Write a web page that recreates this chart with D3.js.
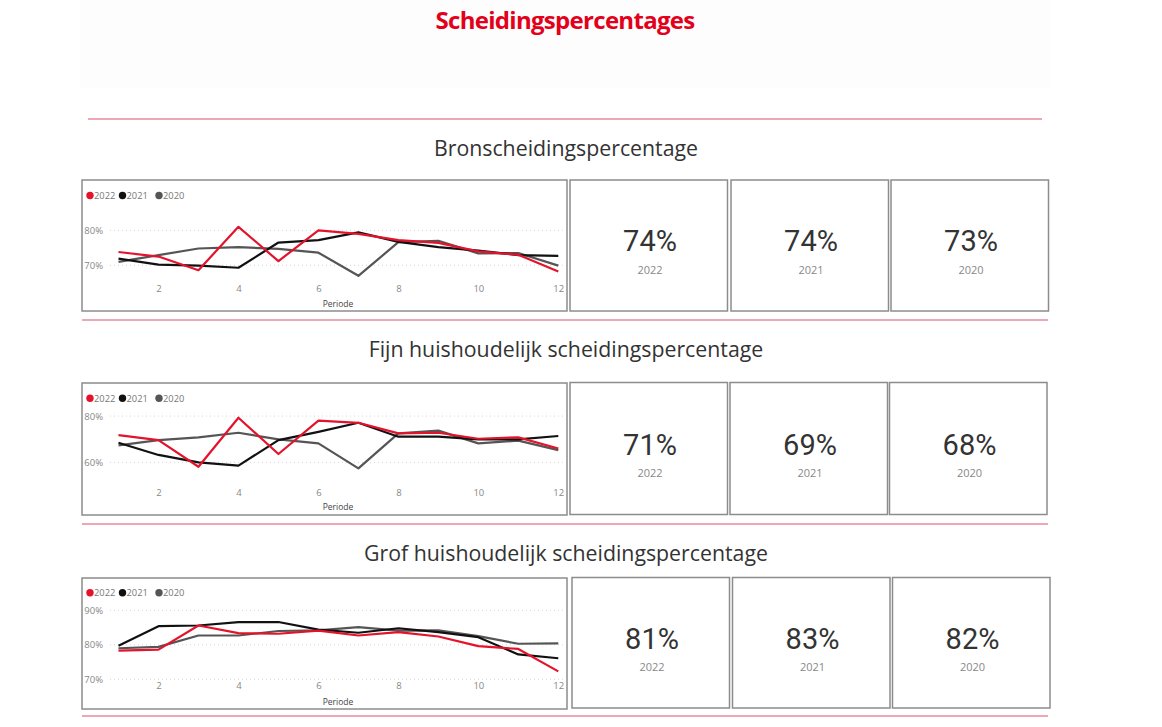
<!DOCTYPE html>
<html>
<head>
<meta charset="utf-8">
<script src="https://cdn.jsdelivr.net/npm/d3@7"></script>
<style>
  body { margin: 0; background: #fff; }
  svg { display: block; }
</style>
</head>
<body>
<div id="chart"></div>
<script>
// data
const periods = [1, 2, 3, 4, 5, 6, 7, 8, 9, 10, 11, 12];
const years = ["2022", "2021", "2020"];
const mainTitle = "Scheidingspercentages";
const sectionTitles = ["Bronscheidingspercentage", "Fijn huishoudelijk scheidingspercentage", "Grof huishoudelijk scheidingspercentage"];

const bron2022 = [73.8, 72.5, 68.6, 81.0, 71.2, 80.0, 79.0, 77.2, 76.4, 74.0, 73.0, 68.2];
const bron2021 = [71.9, 70.2, 69.9, 69.3, 76.5, 77.2, 79.4, 76.7, 75.2, 74.2, 72.9, 72.7];
const bron2020 = [71.0, 72.9, 74.8, 75.2, 74.7, 73.6, 67.0, 76.6, 77.0, 73.4, 73.5, 69.9];

const fijn2022 = [71.8, 69.6, 58.1, 79.3, 63.6, 78.0, 77.1, 72.5, 72.8, 70.2, 70.8, 66.0];
const fijn2021 = [68.5, 63.2, 60.0, 58.6, 69.6, 73.2, 77.1, 71.1, 71.1, 69.9, 69.9, 71.4];
const fijn2020 = [67.3, 69.6, 70.8, 72.8, 69.9, 68.2, 57.4, 72.5, 73.7, 68.2, 69.4, 65.3];

const grof2022 = [78.3, 78.6, 85.6, 83.4, 83.2, 84.1, 82.7, 83.7, 82.4, 79.6, 78.8, 72.3];
const grof2021 = [79.7, 85.4, 85.6, 86.6, 86.6, 84.4, 83.5, 84.8, 83.7, 82.2, 77.2, 76.1];
const grof2020 = [79.0, 79.4, 82.7, 82.7, 84.0, 84.2, 85.1, 84.1, 84.2, 82.5, 80.3, 80.4];

const bronKpi = [74, 74, 73];
const fijnKpi = [71, 69, 68];
const grofKpi = [81, 83, 82];

const bronTicks = [70, 80];
const fijnTicks = [60, 80];
const grofTicks = [70, 80, 90];
const xTicks = [2, 4, 6, 8, 10, 12];

// styles / layout
const colors = ["#e3132c", "#111111", "#555555"];
const pink = "#e88a9c";
const W = 1162, H = 727;

const sections = [
  { title: sectionTitles[0], titleY: 156, series: [bron2022, bron2021, bron2020], kpi: bronKpi, ticks: bronTicks,
    box: [82, 180, 485, 131], yDomain: [65, 85], yRange: [282.8, 212.8], xAxisY: 286, periodeY: 307,
    legendY: 195.5, cardX: [570, 731, 891], cardY: 180, cardH: 131, valueY: 251, yearY: 274, sepY: 320 },
  { title: sectionTitles[1], titleY: 357, series: [fijn2022, fijn2021, fijn2020], kpi: fijnKpi, ticks: fijnTicks,
    box: [82, 383, 485, 132], yDomain: [50, 85], yRange: [485.5, 404.5], xAxisY: 490, periodeY: 510,
    legendY: 398.3, cardX: [570, 730, 889.5], cardY: 382.5, cardH: 132, valueY: 455, yearY: 477, sepY: 524 },
  { title: sectionTitles[2], titleY: 561, series: [grof2022, grof2021, grof2020], kpi: grofKpi, ticks: grofTicks,
    box: [82, 578, 485, 131], yDomain: [68, 92], yRange: [686.2, 603.4], xAxisY: 683.5, periodeY: 704.5,
    legendY: 592.7, cardX: [572, 732.5, 892.5], cardY: 577.5, cardH: 130.5, valueY: 649, yearY: 671, sepY: 716 }
];

const svg = d3.select("#chart").append("svg")
  .attr("width", W)
  .attr("height", H);

// title band
svg.append("rect")
  .attr("x", 80).attr("y", 0).attr("width", 970).attr("height", 88)
  .attr("fill", "#fdfdfd");
svg.append("text")
  .attr("x", 565).attr("y", 29)
  .attr("text-anchor", "middle")
  .attr("font-family", "'Open Sans', sans-serif")
  .attr("font-weight", "bold")
  .attr("font-size", 24)
  .attr("letter-spacing", -0.7)
  .attr("fill", "#e3001b")
  .text(mainTitle);

svg.append("line")
  .attr("x1", 88).attr("x2", 1042).attr("y1", 119).attr("y2", 119)
  .attr("stroke", pink).attr("stroke-width", 1.5);

const x = d3.scaleLinear().domain([1, 12]).range([118.5, 558.3]);

sections.forEach(function (s) {
  // section title
  svg.append("text")
    .attr("x", 566).attr("y", s.titleY)
    .attr("text-anchor", "middle")
    .attr("font-family", "'Open Sans', sans-serif")
    .attr("font-size", 21.3)
    .attr("fill", "#333")
    .text(s.title);

  // chart box
  svg.append("rect")
    .attr("x", s.box[0]).attr("y", s.box[1])
    .attr("width", s.box[2]).attr("height", s.box[3])
    .attr("fill", "#fff")
    .attr("stroke", "#8c8c8c").attr("stroke-width", 1.5);

  const y = d3.scaleLinear().domain(s.yDomain).range(s.yRange);

  // gridlines
  svg.append("g").selectAll("line")
    .data(s.ticks)
    .enter().append("line")
    .attr("x1", 110).attr("x2", 565)
    .attr("y1", function (d) { return y(d); })
    .attr("y2", function (d) { return y(d); })
    .attr("stroke", "#d6d6d6")
    .attr("stroke-dasharray", "1,3");

  // y axis
  const ya = svg.append("g")
    .attr("transform", "translate(107,0)")
    .call(d3.axisLeft(y).tickValues(s.ticks).tickSize(0).tickPadding(4).tickFormat(function (d) { return d + "%"; }));
  ya.select(".domain").remove();
  ya.selectAll("text").attr("font-family", "'Open Sans', sans-serif").attr("font-size", 9.5).attr("fill", "#888");

  // x axis
  const xa = svg.append("g")
    .attr("transform", "translate(0," + (s.xAxisY - 1) + ")")
    .call(d3.axisBottom(x).tickValues(xTicks).tickSize(0).tickPadding(0));
  xa.select(".domain").remove();
  xa.selectAll("text").attr("font-family", "'Open Sans', sans-serif").attr("font-size", 9.5).attr("fill", "#888");

  svg.append("text")
    .attr("x", 338).attr("y", s.periodeY)
    .attr("text-anchor", "middle")
    .attr("font-family", "'Open Sans', sans-serif")
    .attr("font-size", 8.5)
    .attr("fill", "#444")
    .text("Periode");

  // lines, 2020 drawn first so 2022 is on top
  const line = d3.line()
    .x(function (d, i) { return x(periods[i]); })
    .y(function (d) { return y(d); });
  [2, 1, 0].forEach(function (k) {
    svg.append("path")
      .datum(s.series[k])
      .attr("d", line)
      .attr("fill", "none")
      .attr("stroke", colors[k])
      .attr("stroke-width", 2.2)
      .attr("stroke-linejoin", "round");
  });

  // legend
  const legendX = [90, 122.5, 159];
  years.forEach(function (yr, k) {
    svg.append("circle")
      .attr("cx", legendX[k]).attr("cy", s.legendY).attr("r", 3.7)
      .attr("fill", colors[k]);
    svg.append("text")
      .attr("x", legendX[k] + 4).attr("y", s.legendY + 3.3)
      .attr("font-family", "'Open Sans', sans-serif")
      .attr("font-size", 9.3)
      .attr("fill", "#777")
      .text(yr);
  });

  // kpi cards
  s.kpi.forEach(function (v, k) {
    const cx = s.cardX[k];
    svg.append("rect")
      .attr("x", cx).attr("y", s.cardY)
      .attr("width", 157.5).attr("height", s.cardH)
      .attr("fill", "#fff")
      .attr("stroke", "#8c8c8c").attr("stroke-width", 1.5);
    svg.append("text")
      .attr("x", cx + 80).attr("y", s.valueY)
      .attr("text-anchor", "middle")
      .attr("font-family", "Roboto, sans-serif")
      .attr("font-size", 29)
      .attr("fill", "#333")
      .text(v + "%");
    svg.append("text")
      .attr("x", cx + 80).attr("y", s.yearY)
      .attr("text-anchor", "middle")
      .attr("font-family", "'Open Sans', sans-serif")
      .attr("font-size", 11)
      .attr("fill", "#888")
      .text(years[k]);
  });

  // separator
  svg.append("line")
    .attr("x1", 82).attr("x2", 1048).attr("y1", s.sepY).attr("y2", s.sepY)
    .attr("stroke", pink).attr("stroke-width", 1.5);
});
</script>
</body>
</html>
